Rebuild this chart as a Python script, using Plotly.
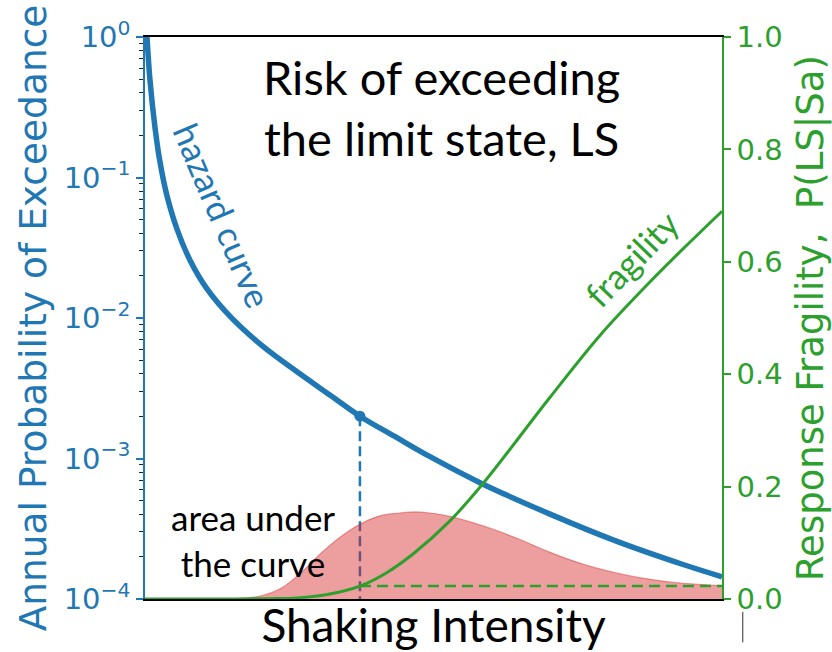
import plotly.graph_objects as go

# Shaking intensity (Sa) grid for the hazard curve and its annual exceedance probability
hazard_sa = [0.007, 0.017, 0.035, 0.052, 0.076, 0.111, 0.156, 0.215, 0.295, 0.409,
             0.527, 0.641, 0.745, 0.873, 0.988, 1.161, 1.404, 1.636, 1.865, 2.000]
hazard_poe = [1.0, 0.501, 0.224, 0.129, 0.0745, 0.0429, 0.0258, 0.0161, 0.01026, 0.00627,
              0.00414, 0.00283, 0.002, 0.001406, 0.00103, 0.000673, 0.000402, 0.000257,
              0.000176, 0.000144]

# Fragility curve P(LS|Sa)
frag_sa = [0.0, 0.20, 0.329, 0.433, 0.527, 0.641, 0.745, 0.832, 0.929, 1.057, 1.171,
           1.404, 1.577, 1.750, 1.865, 2.000]
frag_p = [0.0, 0.0, 0.0, 0.0006, 0.002, 0.009, 0.023, 0.045, 0.08, 0.139, 0.205,
          0.359, 0.469, 0.564, 0.623, 0.690]

# Risk integrand (area under the curve)
risk_sa = [0.25, 0.295, 0.399, 0.468, 0.537, 0.607, 0.676, 0.745, 0.815, 0.884, 0.936,
           0.988, 1.057, 1.172, 1.289, 1.404, 1.518, 1.636, 1.750, 1.865, 2.000]
risk_val = [0.0, 0.0005, 0.005, 0.018, 0.045, 0.08, 0.11, 0.133, 0.148, 0.153, 0.155,
            0.153, 0.147, 0.130, 0.108, 0.083, 0.062, 0.046, 0.035, 0.028, 0.024]

# Highlighted intensity level
sa_mark = 0.745
poe_mark = 0.002
frag_mark = 0.023

left_ticks = [1, 0.1, 0.01, 0.001, 0.0001]
left_ticktext = ["10<sup>0</sup>", "10<sup>\u22121</sup>", "10<sup>\u22122</sup>",
                 "10<sup>\u22123</sup>", "10<sup>\u22124</sup>"]
right_ticks = [0.0, 0.2, 0.4, 0.6, 0.8, 1.0]
right_ticktext = ["0.0", "0.2", "0.4", "0.6", "0.8", "1.0"]

BLUE = "#1f77b4"
GREEN = "#2ca02c"
SANS = "DejaVu Sans"
TEXT_FONT = "Lato"

fig = go.Figure()

# ---- left (log) axis traces ----
fig.add_trace(go.Scatter(
    x=hazard_sa, y=hazard_poe, mode="lines",
    line=dict(color=BLUE, width=5.5, shape="spline", smoothing=1.0),
    yaxis="y", showlegend=False, hoverinfo="skip"))
fig.add_trace(go.Scatter(
    x=[sa_mark, sa_mark], y=[poe_mark, left_ticks[-1]], mode="lines",
    line=dict(color=BLUE, width=2.5, dash="10px,5px"), yaxis="y", showlegend=False, hoverinfo="skip"))
fig.add_trace(go.Scatter(
    x=[sa_mark], y=[poe_mark], mode="markers", marker=dict(color=BLUE, size=11),
    yaxis="y", showlegend=False, hoverinfo="skip"))

# ---- right (linear) axis traces ----
fig.add_trace(go.Scatter(
    x=risk_sa, y=risk_val, mode="lines", fill="tozeroy",
    fillcolor="rgba(214,39,40,0.45)",
    line=dict(color="rgba(214,39,40,0.45)", width=1.2, shape="spline", smoothing=1.0),
    yaxis="y2", showlegend=False, hoverinfo="skip"))
fig.add_trace(go.Scatter(
    x=frag_sa, y=frag_p, mode="lines",
    line=dict(color=GREEN, width=3, shape="spline", smoothing=1.0),
    yaxis="y2", showlegend=False, hoverinfo="skip"))
fig.add_trace(go.Scatter(
    x=[sa_mark, frag_sa[-1]], y=[frag_mark, frag_mark], mode="lines",
    line=dict(color=GREEN, width=2.5, dash="11px,6px"), yaxis="y2", showlegend=False, hoverinfo="skip"))

fig.update_layout(
    width=832, height=652,
    margin=dict(l=145, r=110, t=37, b=53),
    paper_bgcolor="white", plot_bgcolor="white",
    xaxis=dict(
        range=[0, 2], showticklabels=False, ticks="", showgrid=False, zeroline=False,
        showline=True, linecolor="black", linewidth=1.5, mirror=True, automargin=False,
        title=dict(text="Shaking Intensity", font=dict(family=TEXT_FONT, size=46, color="black"), standoff=12),
    ),
    yaxis=dict(
        type="log", range=[-4, 0], tickmode="array", tickvals=left_ticks, ticktext=left_ticktext,
        ticks="outside", ticklen=7, tickwidth=1.5, tickcolor=BLUE,
        tickfont=dict(family=SANS, size=29, color=BLUE),
        minor=dict(ticks="outside", ticklen=4, tickwidth=1.2, tickcolor="#222",
                   tickmode="array",
                   tickvals=[m * 10.0 ** e for e in range(-4, 0) for m in range(2, 10)],
                   showgrid=False),
        showgrid=False, zeroline=False, showline=True, linecolor=BLUE, linewidth=1.5, automargin=False,
        title=dict(text="Annual Probability of Exceedance", font=dict(family=SANS, size=37.5, color=BLUE), standoff=6),
    ),
    yaxis2=dict(
        overlaying="y", side="right", range=[0, 1.0], tickmode="array",
        tickvals=right_ticks, ticktext=right_ticktext,
        ticks="outside", ticklen=7, tickwidth=1.5, tickcolor=GREEN,
        tickfont=dict(family=SANS, size=29, color=GREEN),
        showgrid=False, zeroline=False, showline=True, linecolor=GREEN, linewidth=1.5, automargin=False,
        title=dict(text="Response Fragility,  P(LS|Sa)", font=dict(family=SANS, size=37, color=GREEN), standoff=18),
    ),
    annotations=[
        dict(text="Risk of exceeding<br>the limit state, LS", xref="paper", yref="paper",
             x=0.514, y=0.874, xanchor="center", yanchor="middle", showarrow=False, align="center",
             font=dict(family=TEXT_FONT, size=47, color="black")),
        dict(text="area under<br>the curve", xref="paper", yref="paper",
             x=0.187, y=0.105, xanchor="center", yanchor="middle", showarrow=False, align="center",
             font=dict(family=TEXT_FONT, size=35, color="black")),
        dict(text="hazard curve", xref="paper", yref="paper",
             x=0.135, y=0.683, xanchor="center", yanchor="middle", showarrow=False, textangle=67,
             font=dict(family=TEXT_FONT, size=35, color=BLUE)),
        dict(text="fragility", xref="paper", yref="paper",
             x=0.843, y=0.607, xanchor="center", yanchor="middle", showarrow=False, textangle=-46,
             font=dict(family=TEXT_FONT, size=35, color=GREEN)),
    ],
    shapes=[
        dict(type="line", xref="paper", yref="paper", x0=1.036, x1=1.036, y0=-0.023, y1=-0.077,
             line=dict(color="#333", width=1)),
    ],
)

fig.write_html("out.html")
